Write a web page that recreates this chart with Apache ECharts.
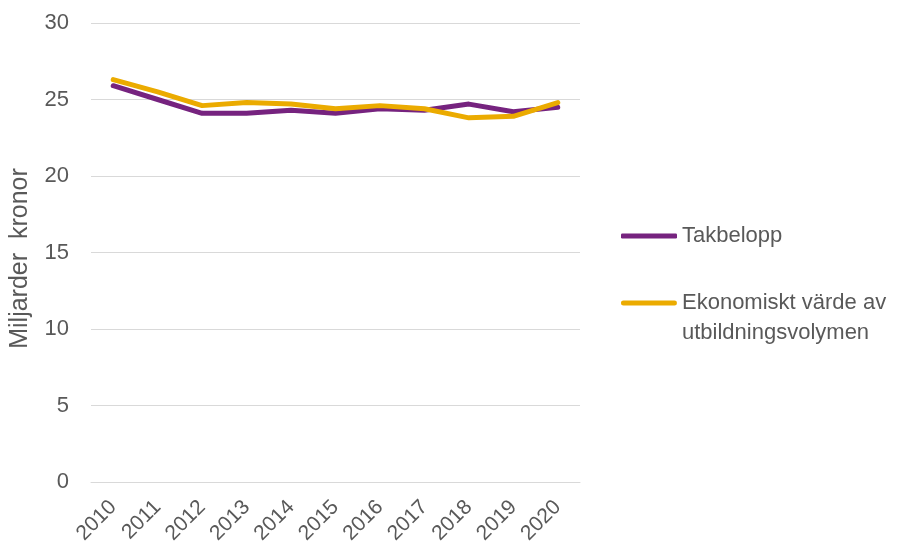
<!DOCTYPE html>
<html><head><meta charset="utf-8">
<script src="https://cdn.jsdelivr.net/npm/echarts@6/dist/echarts.min.js"></script>
<style>html,body{margin:0;padding:0;background:#fff}#c{width:904px;height:547px}</style>
</head><body><div id="c"></div>
<script>
const years = ['2010','2011','2012','2013','2014','2015','2016','2017','2018','2019','2020'];
const takbelopp = [25.9, 25.0, 24.1, 24.1, 24.3, 24.1, 24.4, 24.3, 24.7, 24.2, 24.5];
const ekonomisktVarde = [26.3, 25.5, 24.6, 24.8, 24.7, 24.4, 24.6, 24.4, 23.8, 23.9, 24.8];
const yTicks = {min: 0, max: 30, interval: 5};
const seriesNames = ['Takbelopp', 'Ekonomiskt värde av utbildningsvolymen'];

const FONT = '"Liberation Sans", Arial, sans-serif';
const TXT = '#595959';
const topLineIcon = 'path://M2.5,0 H53.5 A2.5,2.5 0 0 1 53.5,5 H2.5 A2.5,2.5 0 0 1 2.5,0 Z M0,35 h0.01 v0.01 h-0.01 Z';
const chart = echarts.init(document.getElementById('c'), null, {renderer: 'canvas'});
chart.setOption({
  animation: false,
  grid: {left: 90, right: 324, top: 23, bottom: 65, containLabel: false},
  legend: [
    {data: [seriesNames[0]], orient: 'vertical', left: 616, top: 220, icon: 'roundRect',
     itemWidth: 56, itemHeight: 5, textStyle: {fontFamily: FONT, fontSize: 22, color: TXT}},
    {data: [seriesNames[1]], orient: 'vertical', left: 616, top: 283, icon: topLineIcon,
     itemWidth: 56, itemHeight: 35,
     formatter: () => 'Ekonomiskt värde av\nutbildningsvolymen',
     textStyle: {fontFamily: FONT, fontSize: 22, color: TXT, lineHeight: 30}}
  ],
  xAxis: {
    type: 'category', data: years, boundaryGap: true,
    axisLine: {lineStyle: {color: '#d9d9d9', width: 1}},
    axisTick: {show: false},
    axisLabel: {rotate: 45, margin: 22, fontFamily: FONT, fontSize: 21, color: TXT}
  },
  yAxis: {
    type: 'value', min: yTicks.min, max: yTicks.max, interval: yTicks.interval,
    name: 'Miljarder  kronor', nameLocation: 'middle', nameGap: 58, nameRotate: 90,
    nameTextStyle: {fontFamily: FONT, fontSize: 25, color: TXT, padding: [0, 12, 0, 0]},
    axisLine: {show: false}, axisTick: {show: false},
    splitLine: {lineStyle: {color: '#d9d9d9', width: 1}},
    axisLabel: {margin: 22, fontFamily: FONT, fontSize: 22, color: TXT}
  },
  series: [
    {name: seriesNames[0], type: 'line', data: takbelopp, symbol: 'none',
     lineStyle: {color: '#76237f', width: 5, cap: 'round', join: 'round'}, itemStyle: {color: '#76237f'}},
    {name: seriesNames[1], type: 'line', data: ekonomisktVarde, symbol: 'none',
     lineStyle: {color: '#ebab00', width: 5, cap: 'round', join: 'round'}, itemStyle: {color: '#ebab00'}}
  ]
});
</script></body></html>
